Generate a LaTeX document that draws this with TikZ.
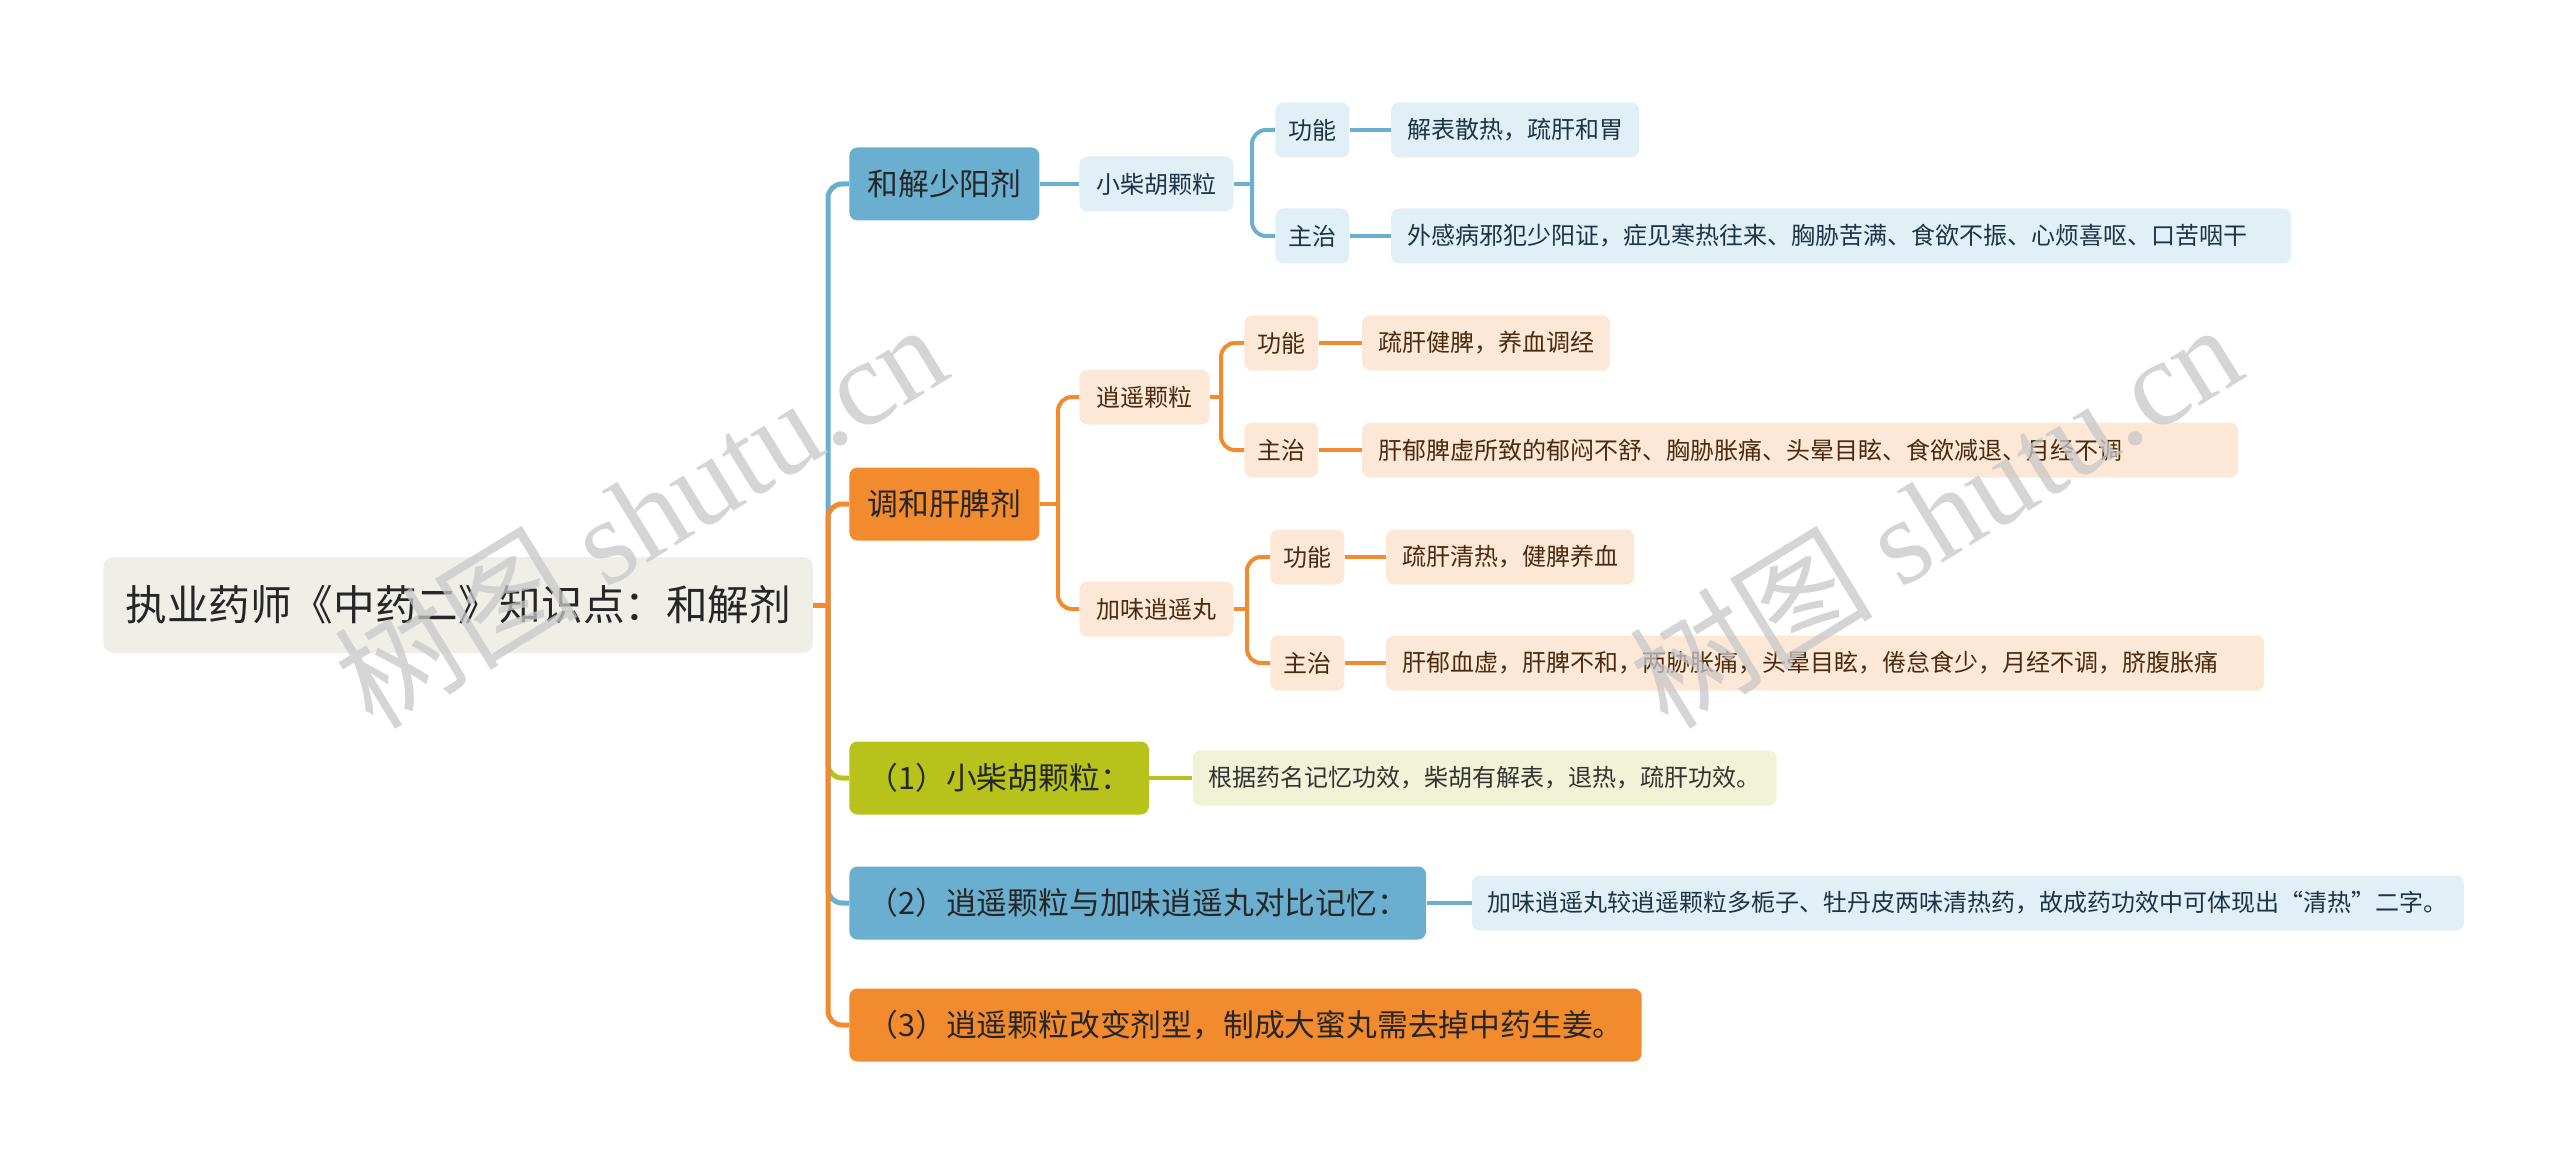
\documentclass[tikz,border=0pt]{standalone}
\usepackage{fontspec}
\setmainfont{Noto Sans CJK SC}
\newfontfamily\wmserif{Liberation Serif}
\usepackage{tikz}
\usetikzlibrary{positioning}

\definecolor{mapblue}{HTML}{6AAFD0}
\definecolor{maporange}{HTML}{F28A2E}
\definecolor{mapgreen}{HTML}{B7C21A}
\definecolor{paleblue}{HTML}{E1EFF7}
\definecolor{paleorange}{HTML}{FDE8D7}
\definecolor{palegreen}{HTML}{F0F3D6}
\definecolor{rootgray}{HTML}{EFEFE8}
\definecolor{inkblue}{HTML}{1D3444}
\definecolor{inkbrown}{HTML}{4A2A10}

\begin{document}
\begin{tikzpicture}[
    x=0.5pt, y=-0.5pt,
    node distance=21pt,
    root/.style={rectangle, rounded corners=5pt, fill=rootgray, text=black!85,
                 font=\fontsize{20.8}{24}\selectfont, inner xsep=11pt,
                 minimum height=48pt, anchor=west},
    branch/.style={rectangle, rounded corners=4pt, text=black!85,
                   font=\fontsize{15.4}{18}\selectfont, inner xsep=9pt,
                   minimum height=36.5pt, anchor=west},
    drug/.style={rectangle, rounded corners=4pt, font=\fontsize{12}{14}\selectfont,
                 inner xsep=8.5pt, minimum height=27.5pt, anchor=west},
    tagbox/.style={drug, inner xsep=6.5pt},
    note/.style={drug, inner xsep=8pt},
    wide/.style={text width=#1, align=left},
    bluegrp/.style={fill=paleblue, text=inkblue},
    orangegrp/.style={fill=paleorange, text=inkbrown},
    greengrp/.style={fill=palegreen, text=black!80},
    trunk/.style={line width=2.5pt},
    twig/.style={line width=2pt},
    wm/.style={text=black!22, text opacity=0.75, font=\fontsize{61}{66}\selectfont, rotate=31.5},
  ]
    \useasboundingbox (0,0) rectangle (2560,1166);

    % root and first level
    \node[root] (root) at (103,605) {执业药师《中药二》知识点：和解剂};
    \node[branch, fill=mapblue]   (hj) at (849,184)  {和解少阳剂};
    \node[branch, fill=maporange] (tg) at (849,504)  {调和肝脾剂};
    \node[branch, fill=mapgreen]  (q1) at (849,778)  {（1）小柴胡颗粒：};
    \node[branch, fill=mapblue]   (q2) at (849,903)  {（2）逍遥颗粒与加味逍遥丸对比记忆：};
    \node[branch, fill=maporange] (q3) at (849,1025) {（3）逍遥颗粒改变剂型，制成大蜜丸需去掉中药生姜。};

    % 和解少阳剂
    \node[drug, bluegrp]   (xc)  at (1079,184) {小柴胡颗粒};
    \node[tagbox, bluegrp] (gn1) at (1275,130) {功能};
    \node[tagbox, bluegrp] (zz1) at (1275,236) {主治};
    \node[note, bluegrp, right=20.5pt of gn1] (gd1) {解表散热，疏肝和胃};
    \node[note, bluegrp, wide=434pt, right=20.5pt of zz1] (zd1) {外感病邪犯少阳证，症见寒热往来、胸胁苦满、食欲不振、心烦喜呕、口苦咽干};

    % 调和肝脾剂
    \node[drug, orangegrp]   (xy)  at (1079,397) {逍遥颗粒};
    \node[tagbox, orangegrp] (gn2) at (1244,343) {功能};
    \node[tagbox, orangegrp] (zz2) at (1244,450) {主治};
    \node[note, orangegrp, right=21.5pt of gn2] (gd2) {疏肝健脾，养血调经};
    \node[note, orangegrp, wide=422pt, right=21.5pt of zz2] (zd2) {肝郁脾虚所致的郁闷不舒、胸胁胀痛、头晕目眩、食欲减退、月经不调};

    \node[drug, orangegrp]   (jw)  at (1079,609) {加味逍遥丸};
    \node[tagbox, orangegrp] (gn3) at (1270,557) {功能};
    \node[tagbox, orangegrp] (zz3) at (1270,663) {主治};
    \node[note, orangegrp, right=20.5pt of gn3] (gd3) {疏肝清热，健脾养血};
    \node[note, orangegrp, wide=423pt, right=20.5pt of zz3] (zd3) {肝郁血虚，肝脾不和，两胁胀痛，头晕目眩，倦怠食少，月经不调，脐腹胀痛};

    % memory notes
    \node[note, greengrp, right=21.5pt of q1] (m1) {根据药名记忆功效，柴胡有解表，退热，疏肝功效。};
    \node[note, bluegrp, right=22.5pt of q2]  (m2) {加味逍遥丸较逍遥颗粒多栀子、牡丹皮两味清热药，故成药功效中可体现出“清热”二字。};

    % junctions
    \coordinate (j0) at (828,605);
    \coordinate (jt) at (1058,504);
    \coordinate (jx) at (1252,184);
    \coordinate (jy) at (1221,397);
    \coordinate (jj) at (1247,609);

    % trunk
    \draw[trunk, mapblue, rounded corners=7pt]   (j0) |- (hj.west);
    \draw[trunk, maporange, rounded corners=7pt] (j0) |- (tg.west);
    \draw[trunk, mapgreen, rounded corners=7pt]  (j0) |- (q1.west);
    \draw[trunk, mapblue, rounded corners=7pt]   (j0) |- (q2.west);
    \draw[trunk, maporange, rounded corners=7pt] (j0) |- (q3.west);
    \draw[trunk, maporange] (root.east) -- (j0);

    % blue group
    \draw[twig, mapblue] (hj) -- (xc);
    \draw[twig, mapblue] (xc.east) -- (jx);
    \draw[twig, mapblue, rounded corners=7pt] (jx) |- (gn1.west);
    \draw[twig, mapblue, rounded corners=7pt] (jx) |- (zz1.west);
    \draw[twig, mapblue] (gn1) -- (gd1);
    \draw[twig, mapblue] (zz1) -- (zd1);

    % orange group
    \draw[twig, maporange] (tg.east) -- (jt);
    \draw[twig, maporange, rounded corners=7pt] (jt) |- (xy.west);
    \draw[twig, maporange, rounded corners=7pt] (jt) |- (jw.west);
    \draw[twig, maporange] (xy.east) -- (jy);
    \draw[twig, maporange, rounded corners=7pt] (jy) |- (gn2.west);
    \draw[twig, maporange, rounded corners=7pt] (jy) |- (zz2.west);
    \draw[twig, maporange] (gn2) -- (gd2);
    \draw[twig, maporange] (zz2) -- (zd2);
    \draw[twig, maporange] (jw.east) -- (jj);
    \draw[twig, maporange, rounded corners=7pt] (jj) |- (gn3.west);
    \draw[twig, maporange, rounded corners=7pt] (jj) |- (zz3.west);
    \draw[twig, maporange] (gn3) -- (gd3);
    \draw[twig, maporange] (zz3) -- (zd3);

    % notes
    \draw[twig, mapgreen] (q1) -- (m1);
    \draw[twig, mapblue]  (q2) -- (m2);

    % watermark
    \node[wm] (wm1) at (640,514)  {树图 {\wmserif shutu.cn}};
    \node[wm] (wm2) at (1935,514) {树图 {\wmserif shutu.cn}};
  \end{tikzpicture}
\end{document}
